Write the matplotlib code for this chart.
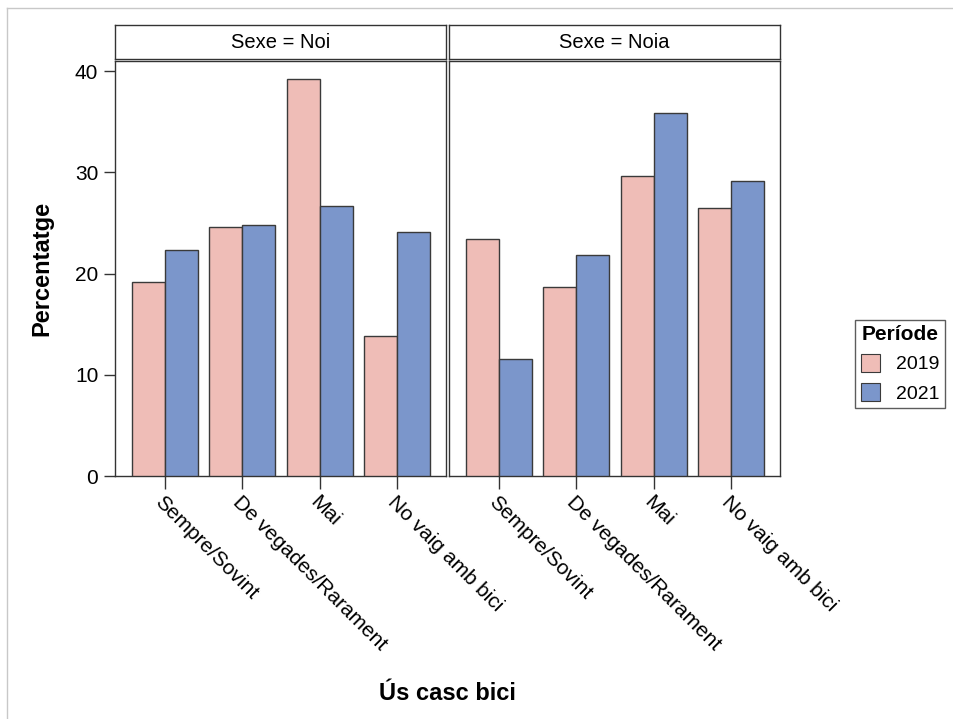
import matplotlib
matplotlib.use('Agg')
import matplotlib.pyplot as plt
import numpy as np
from matplotlib.patches import Patch

plt.rcParams['font.family'] = ['Liberation Sans', 'DejaVu Sans']

categories = ['Sempre/Sovint', 'De vegades/Rarament', 'Mai', 'No vaig amb bici']
panels = ['Sexe = Noi', 'Sexe = Noia']
periods = ['2019', '2021']
noi_2019 = [19.2, 24.6, 39.2, 13.8]
noi_2021 = [22.3, 24.8, 26.7, 24.1]
noia_2019 = [23.4, 18.7, 29.6, 26.5]
noia_2021 = [11.6, 21.8, 35.9, 29.1]
values = [[noi_2019, noi_2021], [noia_2019, noia_2021]]

COLORS = ['#EFBDB7', '#7B96CB']
EDGE = '#3a3a3a'
W, H = 954, 719

fig = plt.figure(figsize=(W / 100, H / 100), dpi=100)

# faint outer frame (top + left)
fig.add_artist(plt.Line2D([7 / W, 1], [1 - 8 / H] * 2, color='#c8c8c8', lw=1))
fig.add_artist(plt.Line2D([7 / W] * 2, [0, 1 - 8 / H], color='#c8c8c8', lw=1))

lefts = [115, 449]
pw = 331
top, bottom = 61, 476
strip_top, strip_bot = 25, 59
x = np.arange(len(categories))
bw = 0.426

for i, (lx, name) in enumerate(zip(lefts, panels)):
    ax = fig.add_axes([lx / W, 1 - bottom / H, pw / W, (bottom - top) / H])
    for j, (vals, col) in enumerate(zip(values[i], COLORS)):
        ax.bar(x + (j - 0.5) * bw, vals, width=bw, color=col,
               edgecolor=EDGE, linewidth=1.0, zorder=3)
    ax.set_xlim(-0.64, 3.63)
    ax.set_ylim(0, 41)
    for s in ax.spines.values():
        s.set_color('#333333')
        s.set_linewidth(1.0)
    ax.set_xticks(x)
    ax.set_xticklabels(categories, rotation=-45, ha='left', va='top',
                       rotation_mode='anchor', fontsize=15)
    ax.tick_params(axis='x', length=9, width=1, color='#333333', pad=3)
    if i == 0:
        ax.set_yticks([0, 10, 20, 30, 40])
        ax.tick_params(axis='y', labelsize=15, length=8, width=1,
                       color='#333333', pad=4)
    else:
        ax.set_yticks([])

    sax = fig.add_axes([lx / W, 1 - strip_bot / H, pw / W,
                        (strip_bot - strip_top) / H])
    sax.set_xticks([])
    sax.set_yticks([])
    for s in sax.spines.values():
        s.set_color('#333333')
        s.set_linewidth(1.0)
    sax.text(0.5, 0.5, name, ha='center', va='center', fontsize=14.5,
             transform=sax.transAxes)

fig.text(42 / W, 1 - 268 / H, 'Percentatge', rotation=90, ha='center',
         va='center', fontsize=17, fontweight='bold')
fig.text(447 / W, 1 - 693 / H, 'Ús casc bici', ha='center', va='center',
         fontsize=17, fontweight='bold')

handles = [Patch(facecolor=c, edgecolor=EDGE, linewidth=0.8) for c in COLORS]
leg = fig.legend(handles, periods, title='Període', loc='center',
                 bbox_to_anchor=(900 / W, 1 - 364 / H), fontsize=14,
                 title_fontproperties={'weight': 'bold', 'size': 15},
                 frameon=True, fancybox=False, edgecolor='#333333',
                 handlelength=1.0, handleheight=1.0, handletextpad=0.8,
                 borderpad=0.3, labelspacing=0.5, borderaxespad=0)
leg.get_frame().set_linewidth(1.0)

fig.savefig('out.png', dpi=100)
